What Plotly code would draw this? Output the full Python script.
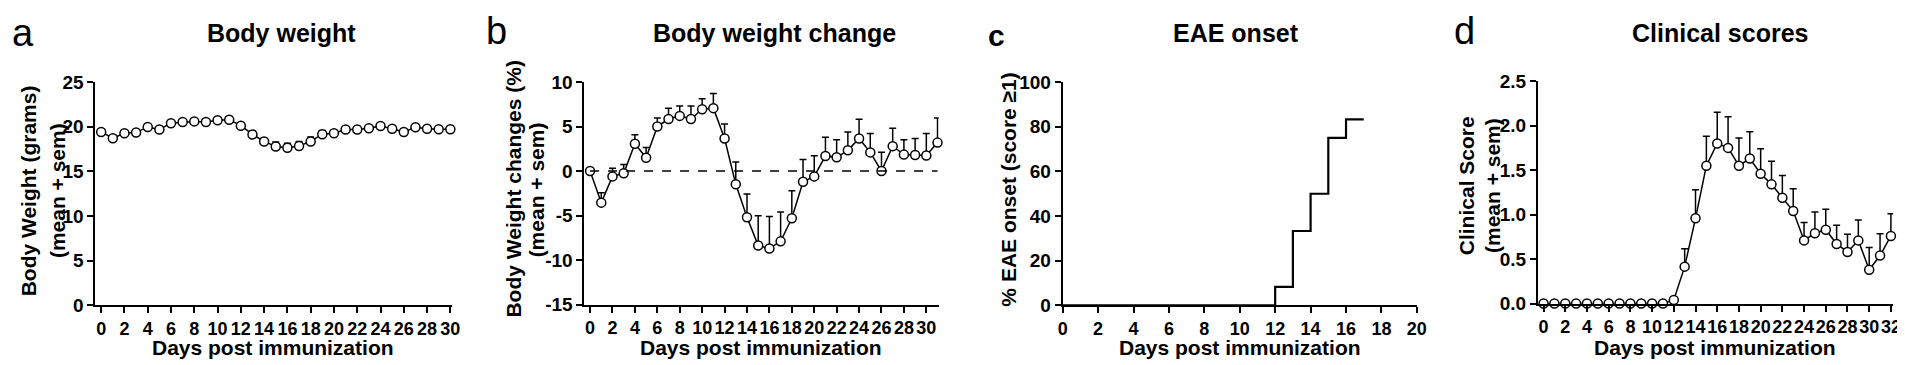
import plotly.graph_objects as go

W, H = 1905, 365

# ---------------- data ----------------
days_a = list(range(0, 31))
weight_mean = [19.42, 18.72, 19.28, 19.35, 19.98, 19.70, 20.40, 20.54, 20.60, 20.54, 20.72,
               20.79, 20.12, 19.14, 18.36, 17.80, 17.66, 17.84, 18.36, 19.17, 19.28,
               19.70, 19.70, 19.84, 20.08, 19.77, 19.42, 19.94, 19.77, 19.73, 19.73]
weight_sem = [0.10, 0.15, 0.15, 0.15, 0.15, 0.15, 0.15, 0.15, 0.15, 0.15, 0.20,
              0.30, 0.20, 0.35, 0.35, 0.50, 0.50, 0.50, 0.50, 0.40, 0.30,
              0.20, 0.20, 0.20, 0.20, 0.20, 0.20, 0.20, 0.20, 0.20, 0.30]

days_b = list(range(0, 32))
change_mean = [0.0, -3.55, -0.6, -0.25, 3.06, 1.5, 5.0, 5.85, 6.2, 5.85, 6.95, 7.07,
               3.66, -1.48, -5.2, -8.37, -8.7, -7.9, -5.3, -1.2, -0.6, 1.7, 1.55,
               2.33, 3.66, 2.1, 0.0, 2.8, 1.85, 1.8, 1.75, 3.2]
change_sem = [0.0, 1.1, 0.92, 1.0, 1.02, 1.14, 0.95, 1.2, 1.12, 1.47, 1.18, 1.66,
              1.62, 2.5, 2.63, 3.34, 3.6, 3.3, 3.1, 2.5, 2.33, 2.1, 1.97,
              2.07, 2.15, 2.13, 2.11, 2.02, 1.67, 1.86, 2.48, 2.75]

onset_days = [0, 12, 13, 14, 15, 16, 17]
onset_pct = [0.0, 8.33, 33.33, 50.0, 75.0, 83.33, 83.33]

days_d = list(range(0, 33))
score_mean = [0, 0, 0, 0, 0, 0, 0, 0, 0, 0, 0, 0, 0.04, 0.415, 0.958, 1.55, 1.80, 1.75,
              1.55, 1.63, 1.46, 1.34, 1.19, 1.04, 0.71, 0.79, 0.83, 0.67, 0.58, 0.71,
              0.38, 0.54, 0.76]
score_sem = [0, 0, 0, 0, 0, 0, 0, 0, 0, 0, 0, 0, 0.0, 0.20, 0.32, 0.33, 0.35, 0.35,
             0.31, 0.30, 0.28, 0.26, 0.25, 0.25, 0.20, 0.24, 0.23, 0.21, 0.20, 0.23,
             0.25, 0.245, 0.25]

panel_letters = ["a", "b", "c", "d"]
panel_titles = ["Body weight", "Body weight change", "EAE onset", "Clinical scores"]
y_title_lines = [["Body Weight (grams)", "(mean + sem)"],
                 ["Body Weight changes (%)", "(mean + sem)"],
                 ["% EAE onset (score \u22651)"],
                 ["Clinical Score", "(mean + sem)"]]
x_title = "Days post immunization"

# ---------------- layout helpers ----------------
FONT = "Liberation Sans, Arial, sans-serif"


def px(x):
    return x / W


def py(y):
    return 1 - y / H


fig = go.Figure()

marker = dict(symbol="circle", size=9, color="white", line=dict(color="black", width=1.5))


def err(sem):
    return dict(type="data", array=sem, arrayminus=[0] * len(sem), symmetric=False,
                color="black", thickness=1.5, width=3.5)


fig.add_trace(go.Scatter(x=days_a, y=weight_mean, mode="lines+markers", marker=marker,
                         line=dict(color="black", width=1.5), error_y=err(weight_sem),
                         cliponaxis=False, xaxis="x", yaxis="y", showlegend=False))
fig.add_trace(go.Scatter(x=days_b, y=change_mean, mode="lines+markers", marker=marker,
                         line=dict(color="black", width=1.5), error_y=err(change_sem),
                         cliponaxis=False, xaxis="x2", yaxis="y2", showlegend=False))
fig.add_trace(go.Scatter(x=onset_days, y=onset_pct, mode="lines",
                         line=dict(color="black", width=2.2, shape="hv"),
                         cliponaxis=False, xaxis="x3", yaxis="y3", showlegend=False))
fig.add_trace(go.Scatter(x=days_d, y=score_mean, mode="lines+markers", marker=marker,
                         line=dict(color="black", width=1.5), error_y=err(score_sem),
                         cliponaxis=False, xaxis="x4", yaxis="y4", showlegend=False))

xtickfont = dict(family=FONT, size=18, color="black", weight="bold")
ytickfont = dict(family=FONT, size=19, color="black", weight="bold")


def xaxis(dom, rng, tickvals, anchor):
    return dict(domain=dom, range=rng, tickvals=tickvals, ticktext=[str(v) for v in tickvals],
                showline=True, linecolor="black", linewidth=2, ticks="outside", ticklen=6,
                tickwidth=2, tickcolor="black", showgrid=False, zeroline=False,
                tickangle=0, tickfont=xtickfont, anchor=anchor, fixedrange=True)


def yaxis(dom, rng, tickvals, ticktext, anchor):
    return dict(domain=dom, range=rng, tickvals=tickvals, ticktext=ticktext,
                showline=True, linecolor="black", linewidth=2, ticks="outside", ticklen=6,
                tickwidth=2, tickcolor="black", showgrid=False, zeroline=False,
                tickangle=0, tickfont=ytickfont, anchor=anchor, fixedrange=True)


ydom = [py(305), py(68)]
fig.update_layout(
    width=W, height=H, margin=dict(l=0, r=0, t=0, b=0),
    paper_bgcolor="white", plot_bgcolor="white",
    xaxis=xaxis([px(83), px(442)], [-0.5, 30.1], list(range(0, 31, 2)), "y"),
    yaxis=yaxis(ydom, [0, 25], [0, 5, 10, 15, 20, 25], ["0", "5", "10", "15", "20", "25"], "x"),
    xaxis2=xaxis([px(576), px(933)], [-0.5, 31.1], list(range(0, 31, 2)), "y2"),
    yaxis2=yaxis([py(304), py(68)], [-15, 10], [-15, -10, -5, 0, 5, 10],
                 ["-15", "-10", "-5", "0", "5", "10"], "x2"),
    xaxis3=xaxis([px(1058), px(1415)], [0, 20], list(range(0, 21, 2)), "y3"),
    yaxis3=yaxis(ydom, [0, 100], [0, 20, 40, 60, 80, 100],
                 ["0", "20", "40", "60", "80", "100"], "x3"),
    xaxis4=xaxis([px(1537), px(1895)], [-0.52, 32.2], list(range(0, 33, 2)), "y4"),
    yaxis4=yaxis([py(303), py(67)], [0, 2.5], [0, 0.5, 1.0, 1.5, 2.0, 2.5],
                 ["0.0", "0.5", "1.0", "1.5", "2.0", "2.5"], "x4"),
)

# dashed zero line in panel b
fig.add_shape(type="line", xref="x2", yref="y2", x0=0, x1=31, y0=0, y1=0,
              line=dict(color="black", width=1.5, dash="dash"))

ann = []
letter_pos = [(10, 16), (487, 14), (991, 19), (1463, 14)]
letter_size = [38, 38, 30, 38]
for (lx, ly), letter, ls in zip(letter_pos, panel_letters, letter_size):
    ann.append(dict(text=letter, x=px(lx), y=py(ly), xref="paper", yref="paper",
                    xanchor="center", yanchor="middle", showarrow=False,
                    font=dict(family=FONT, size=ls, color="black",
                              weight="bold" if letter == "c" else "normal")))

title_x = [271, 768, 1233, 1721]
for tx, t in zip(title_x, panel_titles):
    ann.append(dict(text=t, x=px(tx), y=py(16), xref="paper", yref="paper",
                    xanchor="center", yanchor="middle", showarrow=False,
                    font=dict(family=FONT, size=25, color="black", weight="bold")))

xt_x = [262, 754, 1237, 1716]
for tx in xt_x:
    ann.append(dict(text=x_title, x=px(tx), y=py(350), xref="paper", yref="paper",
                    xanchor="center", yanchor="middle", showarrow=False,
                    font=dict(family=FONT, size=21, color="black", weight="bold")))

# y-axis titles, one annotation per line
yt_line_x = [[16, 45], [504, 528], [1003], [1465, 1491]]
yt_center_y = [183, 182, 182, 178]
for xs, yy, lines in zip(yt_line_x, yt_center_y, y_title_lines):
    for lx, t in zip(xs, lines):
        ann.append(dict(text=t, x=px(lx), y=py(yy), xref="paper", yref="paper",
                        xanchor="center", yanchor="middle", showarrow=False, textangle=-90,
                        font=dict(family=FONT, size=21, color="black", weight="bold")))

fig.update_layout(annotations=ann)

fig.write_html("out.html")
